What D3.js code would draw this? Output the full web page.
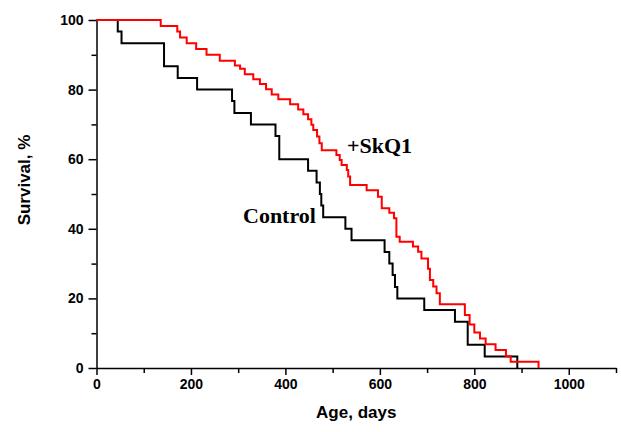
<!DOCTYPE html>
<html>
<head>
<meta charset="utf-8">
<script src="https://cdnjs.cloudflare.com/ajax/libs/d3/7.8.5/d3.min.js"></script>
<style>
  body { margin: 0; background: #fff; }
  svg { display: block; }
  .tick text { font-family: Arial, "Liberation Sans", sans-serif; font-weight: bold; font-size: 14px; }
</style>
</head>
<body>
<div id="chart"></div>
<script>
// Kaplan-Meier steps: [age in days, survival % after the step]
const controlSteps = [
  [0, 100], [45, 96.7], [53, 93.3], [143, 86.7], [172, 83.3], [213, 80],
  [287, 76.7], [292, 73.3], [327, 70], [379, 66.7], [387, 60], [448, 56.7],
  [466, 53.3], [473, 50], [476, 46.7], [480, 43.3], [527, 40], [540, 36.7],
  [610, 33.3], [620, 30], [627, 26.7], [632, 23.3], [637, 20], [694, 16.7],
  [759, 13.3], [786, 6.7], [822, 3.3], [891, 0]
];
const skq1Steps = [
  [0, 100], [136, 98.3], [171, 96.7], [177, 95], [191, 93.3], [211, 91.7],
  [233, 90], [261, 88.3], [293, 86.9], [304, 86], [314, 84.4], [332, 83],
  [346, 81.6], [359, 80.1], [371, 78.6], [385, 77.2], [410, 75.8], [427, 74.3],
  [438, 72.9], [448, 71.5], [455, 69.9], [459, 68.4], [467, 66.5], [472, 64.6],
  [477, 62.6], [508, 61.2], [515, 59.8], [519, 58.3], [530, 56.9], [533, 55],
  [537, 52.6], [572, 51.1], [596, 49.2], [604, 45.9], [620, 44.6], [630, 43],
  [635, 37.7], [642, 36.3], [670, 34.9], [681, 33.4], [688, 31.5], [702, 28.5],
  [706, 25.3], [713, 23.4], [720, 21.5], [727, 18.3], [780, 15.2], [790, 12.5],
  [800, 10.2], [812, 8.5], [824, 6.8], [845, 5.2], [867, 3.4], [877, 1.8], [936, 0]
];
const xTicks = [0, 200, 400, 600, 800, 1000];
const xMinor = [100, 300, 500, 700, 900, 1100];
const yTicks = [0, 20, 40, 60, 80, 100];
const yMinor = [10, 30, 50, 70, 90];

const width = 621, height = 432;
const margin = { top: 20, right: 5, bottom: 64, left: 96.5 };

const svg = d3.select("#chart").append("svg")
  .attr("width", width)
  .attr("height", height);

const x = d3.scaleLinear().domain([0, 1100]).range([margin.left, width - margin.right]);
const y = d3.scaleLinear().domain([0, 100]).range([height - margin.bottom, margin.top]);

// minor ticks first, then major axes on top
svg.append("g")
  .attr("transform", `translate(0,${y(0)})`)
  .call(d3.axisBottom(x).tickValues(xMinor).tickSize(5).tickFormat(""))
  .call(g => g.select(".domain").remove())
  .call(g => g.selectAll("line").attr("stroke-width", 1.5));

svg.append("g")
  .attr("transform", `translate(${x(0)},0)`)
  .call(d3.axisLeft(y).tickValues(yMinor).tickSize(5).tickFormat(""))
  .call(g => g.select(".domain").remove())
  .call(g => g.selectAll("line").attr("stroke-width", 1.5));

svg.append("g")
  .attr("transform", `translate(0,${y(0)})`)
  .call(d3.axisBottom(x).tickValues(xTicks).tickFormat(d3.format("d"))
    .tickSize(7).tickSizeOuter(0).tickPadding(4))
  .call(g => g.select(".domain").attr("stroke-width", 1.5))
  .call(g => g.selectAll("line").attr("stroke-width", 1.5));

svg.append("g")
  .attr("transform", `translate(${x(0)},0)`)
  .call(d3.axisLeft(y).tickValues(yTicks).tickSize(8).tickSizeOuter(0).tickPadding(5))
  .call(g => g.select(".domain").attr("stroke-width", 1.5))
  .call(g => g.selectAll("line").attr("stroke-width", 1.5));

const line = d3.line()
  .x(d => x(d[0]))
  .y(d => y(d[1]))
  .curve(d3.curveStepAfter);

svg.append("path")
  .datum(controlSteps)
  .attr("fill", "none")
  .attr("stroke", "#000")
  .attr("stroke-width", 2)
  .attr("d", line);

svg.append("path")
  .datum(skq1Steps)
  .attr("fill", "none")
  .attr("stroke", "#ff0000")
  .attr("stroke-width", 2)
  .attr("d", line);

// series labels
svg.append("text")
  .attr("x", 347)
  .attr("y", 153)
  .style("font-family", "'Liberation Serif', 'Times New Roman', serif")
  .style("font-weight", "bold")
  .style("font-size", "22px")
  .text("+SkQ1");

svg.append("text")
  .attr("x", 243)
  .attr("y", 223)
  .style("font-family", "'Liberation Serif', 'Times New Roman', serif")
  .style("font-weight", "bold")
  .style("font-size", "22px")
  .text("Control");

// axis titles
svg.append("text")
  .attr("x", (x(0) + x(1100)) / 2)
  .attr("y", 418)
  .attr("text-anchor", "middle")
  .style("font-family", "Arial, 'Liberation Sans', sans-serif")
  .style("font-weight", "bold")
  .style("font-size", "17px")
  .text("Age, days");

svg.append("text")
  .attr("transform", "translate(30,180) rotate(-90)")
  .attr("text-anchor", "middle")
  .style("font-family", "Arial, 'Liberation Sans', sans-serif")
  .style("font-weight", "bold")
  .style("font-size", "17px")
  .text("Survival, %");
</script>
</body>
</html>
